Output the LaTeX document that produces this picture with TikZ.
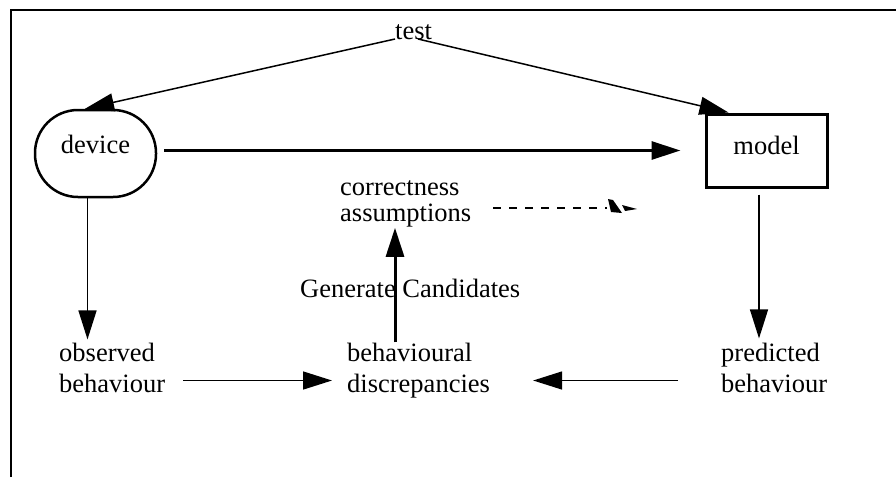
\documentclass[tikz,border=0pt]{standalone}
\usepackage{fontspec}
\setmainfont{Liberation Serif}
\usetikzlibrary{arrows.meta}
\begin{document}
\begin{tikzpicture}[x=1pt,y=-1pt,
  lbl/.style={anchor=base west, inner sep=0pt, align=left, font=\fontsize{26.5}{31}\selectfont},
  thinarr/.style={line width=1.5pt, -{Triangle[length=29pt,width=18pt]}},
  thickarr/.style={line width=3pt, -{Triangle[length=29pt,width=18pt]}},
  devbox/.style={draw, line width=2.5pt, rounded corners=43pt, minimum width=121pt, minimum height=87pt, inner sep=0pt, font=\fontsize{26.5}{31}\selectfont, text height=18pt, text depth=19pt},
  modbox/.style={draw, line width=3pt, minimum width=121pt, minimum height=73pt, inner sep=0pt, font=\fontsize{26.5}{31}\selectfont, text height=18pt, text depth=11pt},
]
\useasboundingbox (0,0) rectangle (896,477);
\draw[line width=1.5pt] (11,477) -- (11,10) -- (896,10);

\node[lbl] (test) at (395,39) {test};
\node[devbox] (device) at (95.5,153.5) {device};
\node[modbox] (model) at (766.5,150.5) {model};
\node[lbl] (obs) at (59,392) {observed\\behaviour};
\node[lbl] (disc) at (347,392) {behavioural\\discrepancies};
\node[lbl] (pred) at (721,392) {predicted\\behaviour};
\node[lbl, font=\fontsize{26.5}{26}\selectfont] (corr) at (340,221) {correctness\\assumptions};
\node[lbl] (gen) at (300,297) {Generate Candidates};

% test to device and model
\draw[thinarr] (test.base west) -- ([xshift=-10.5pt]device.north);
\draw[thinarr] ([xshift=23pt]test.base west) -- ([xshift=24pt]model.north west);

% device to model
\draw[thickarr] ([shift={(7,-3)}]device.east) -- ([xshift=-24pt]model.west);

% down arrows
\coordinate (dtop) at ([xshift=-8pt]device.south);
\draw[thinarr, shorten >=3pt] (dtop) -- (dtop |- obs.north);
\coordinate (mtop) at ([xshift=-7.5pt]model.south);
\draw[thinarr, shorten <=6pt, shorten >=4pt] (mtop) -- (mtop |- pred.north);

% bottom horizontal arrows
\draw[thinarr] ([shift={(18,-11.5)}]obs.base east) -- ([shift={(-15,-11.5)}]disc.base west);
\draw[thinarr] ([shift={(-43,-11.5)}]pred.base west) -- ([shift={(43,-11.5)}]disc.base east);

% generate candidates
\coordinate (dup) at ([xshift=48pt]disc.north west);
\draw[thickarr, shorten >=1pt] (dup) -- (dup |- corr.south);

% dashed line with broken head
\coordinate (dend) at (607,208);
\draw[line width=1.5pt, dash pattern=on 8pt off 8pt] ([shift={(22,-13)}]corr.base east) -- (dend);
\fill[black] (608,199) -- (613,200) -- (622,213) -- (611,212) -- cycle;
\fill[black] (622,205) -- (637,209) -- (625,211) -- cycle;
\end{tikzpicture}
\end{document}
